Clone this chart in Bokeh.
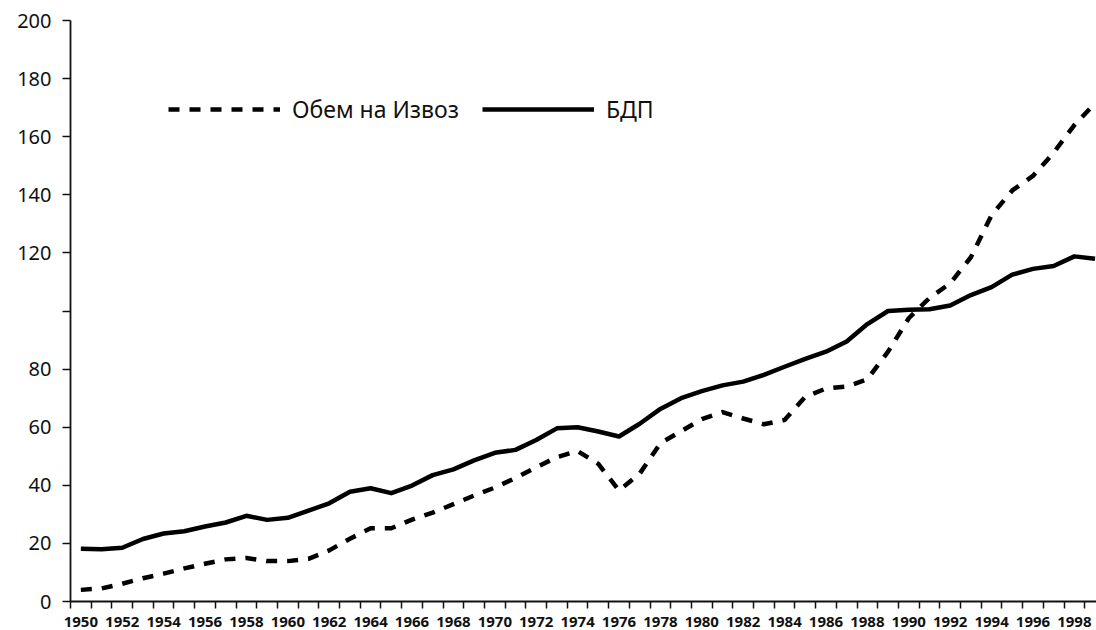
from bokeh.plotting import figure
from bokeh.models import FixedTicker, Range1d, Legend, LegendItem
from bokeh.embed import file_html
from bokeh.resources import INLINE

years = list(range(1950, 2000))
# Обем на Извоз (export volume index)
export_volume = [4.0, 4.5, 6.1, 8.0, 9.6, 11.4, 13.0, 14.5, 15.0, 13.9,
                 13.9, 14.7, 17.6, 21.6, 25.2, 25.2, 28.2, 30.6, 33.5, 36.5,
                 39.2, 42.5, 46.2, 49.7, 51.8, 47.4, 38.2, 44.0, 54.5, 58.6,
                 62.8, 65.2, 63.0, 61.0, 62.5, 70.5, 73.3, 74.0, 76.5, 86.0,
                 97.5, 104.5, 109.5, 118.5, 133.0, 141.5, 146.5, 154.5, 164.0, 171.5]
# БДП (GDP index)
gdp = [18.2, 18.0, 18.5, 21.5, 23.4, 24.2, 25.8, 27.2, 29.5, 28.1,
       28.8, 31.3, 33.8, 37.8, 39.0, 37.3, 39.9, 43.5, 45.5, 48.6,
       51.2, 52.2, 55.6, 59.6, 60.0, 58.5, 56.8, 61.2, 66.3, 70.0,
       72.4, 74.4, 75.7, 78.0, 80.8, 83.5, 86.0, 89.5, 95.5, 100.0,
       100.4, 100.6, 101.9, 105.5, 108.2, 112.5, 114.5, 115.5, 118.8, 118.0]
y_ticks = [0, 20, 40, 60, 80, 100, 120, 140, 160, 180, 200]
y_hidden_labels = [100]
label_years = list(range(1950, 1999, 2))
series_names = ["Обем на Извоз", "БДП"]

FONT = "Noto Sans"
INK = "#111111"

p = figure(width=1096, height=630, output_backend="svg", toolbar_location=None,
           x_range=Range1d(1949.5, 1999.07), y_range=Range1d(0, 200),
           min_border_left=70, min_border_right=0, min_border_top=20, min_border_bottom=29)
p.outline_line_color = None
p.xgrid.visible = False
p.ygrid.visible = False
p.background_fill_color = "white"
p.border_fill_color = "white"

r_exp = p.line(years, export_volume, line_color="black", line_width=4.5,
               line_dash="11 10", line_join="round")
r_gdp = p.line(years, gdp, line_color="black", line_width=4.5, line_join="round")

# x axis
xa = p.xaxis[0]
xa.ticker = FixedTicker(ticks=label_years, minor_ticks=[y - 0.5 for y in years])
xa.major_tick_out = 0
xa.major_tick_in = 0
xa.minor_tick_out = 7
xa.minor_tick_in = 0
xa.minor_tick_line_color = INK
xa.minor_tick_line_width = 1.5
xa.axis_line_color = INK
xa.axis_line_width = 1.8
xa.major_label_text_font = FONT
xa.major_label_text_font_style = "bold"
xa.major_label_text_font_size = "15px"
xa.major_label_text_color = INK
xa.major_label_standoff = 8

# y axis
ya = p.yaxis[0]
ya.ticker = FixedTicker(ticks=y_ticks, minor_ticks=[])
ya.major_label_overrides = {v: "" for v in y_hidden_labels}
ya.major_tick_out = 8
ya.major_tick_in = 0
ya.major_tick_line_color = INK
ya.major_tick_line_width = 1.5
ya.minor_tick_out = 0
ya.minor_tick_in = 0
ya.axis_line_color = INK
ya.axis_line_width = 1.8
ya.major_label_text_font = FONT
ya.major_label_text_font_size = "20px"
ya.major_label_text_color = INK
ya.major_label_standoff = 11

legend = Legend(items=[LegendItem(label=series_names[0], renderers=[r_exp]),
                       LegendItem(label=series_names[1], renderers=[r_gdp])],
                orientation="horizontal", location=(98, 476),
                glyph_width=112, glyph_height=24, label_height=24,
                label_standoff=12, spacing=23, padding=0, margin=0,
                border_line_color=None, background_fill_alpha=0,
                label_text_font=FONT, label_text_font_size="23px",
                label_text_color=INK)
p.add_layout(legend, "center")

open("out.html", "w").write(file_html(p, INLINE))
